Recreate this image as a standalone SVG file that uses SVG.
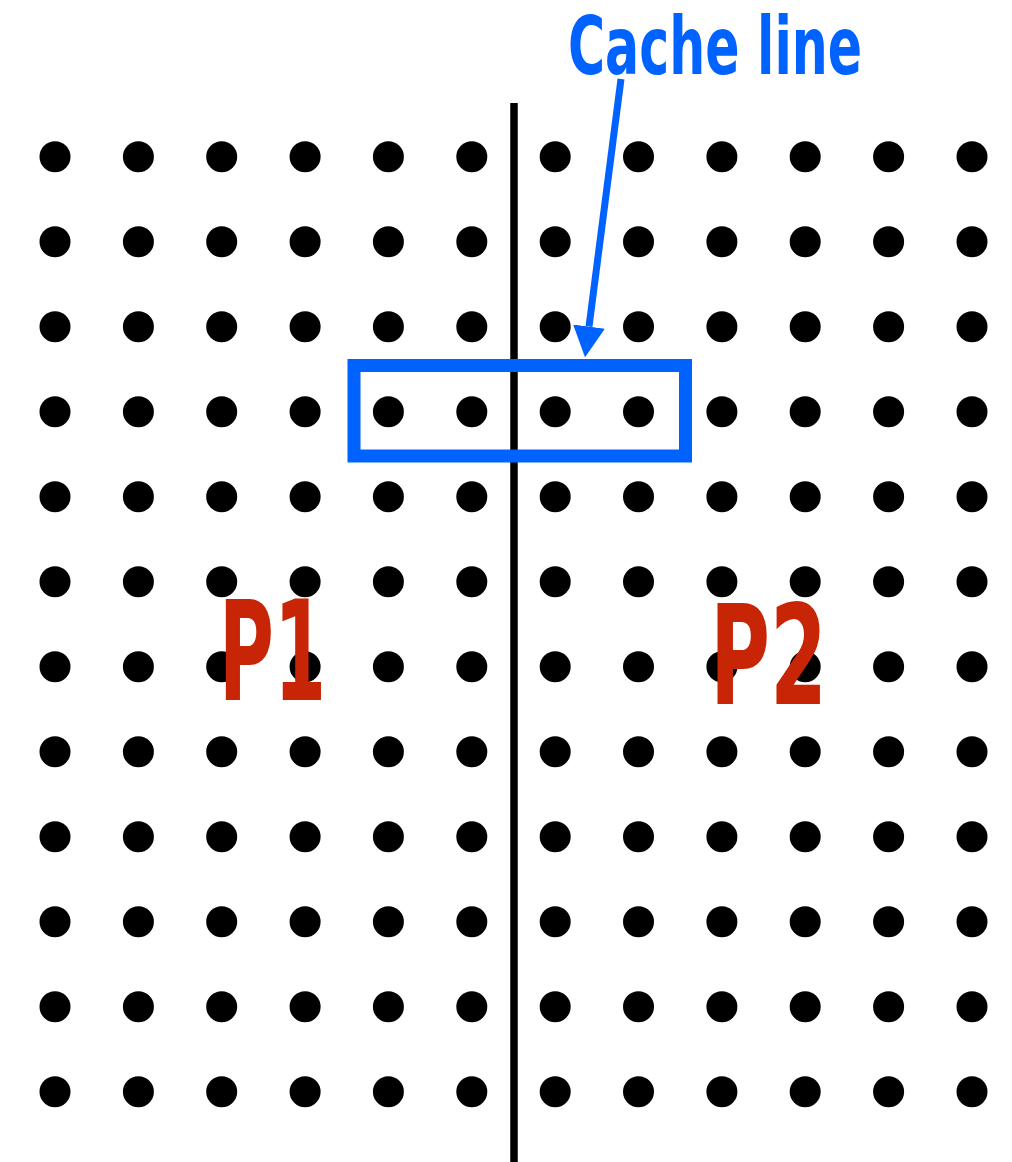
<svg xmlns="http://www.w3.org/2000/svg" xmlns:xlink="http://www.w3.org/1999/xlink" width="1012" height="1162" viewBox="0 0 1012 1162">
<style>
.dot{fill:#000}
.lbl{font-family:"DejaVu Sans Condensed","DejaVu Sans","Liberation Sans",sans-serif;font-weight:bold;font-stretch:condensed}
</style>
<defs>
<marker id="ah" markerUnits="userSpaceOnUse" markerWidth="32" markerHeight="32" refX="0" refY="16" orient="auto" viewBox="0 0 32 32">
<path d="M0,0 L31,16 L0,32 z" fill="#0062FF"/>
</marker>
<g id="row">
<circle class="dot" cx="55" cy="0" r="15.5"/>
<circle class="dot" cx="138.4" cy="0" r="15.5"/>
<circle class="dot" cx="221.7" cy="0" r="15.5"/>
<circle class="dot" cx="305.1" cy="0" r="15.5"/>
<circle class="dot" cx="388.4" cy="0" r="15.5"/>
<circle class="dot" cx="471.8" cy="0" r="15.5"/>
<circle class="dot" cx="555.2" cy="0" r="15.5"/>
<circle class="dot" cx="638.5" cy="0" r="15.5"/>
<circle class="dot" cx="721.9" cy="0" r="15.5"/>
<circle class="dot" cx="805.2" cy="0" r="15.5"/>
<circle class="dot" cx="888.6" cy="0" r="15.5"/>
<circle class="dot" cx="972" cy="0" r="15.5"/>
</g>
</defs>
<rect width="1012" height="1162" fill="#fff"/>
<g id="grid">
<use href="#row" xlink:href="#row" y="156.7"/>
<use href="#row" xlink:href="#row" y="241.7"/>
<use href="#row" xlink:href="#row" y="326.7"/>
<use href="#row" xlink:href="#row" y="411.7"/>
<use href="#row" xlink:href="#row" y="496.7"/>
<use href="#row" xlink:href="#row" y="581.7"/>
<use href="#row" xlink:href="#row" y="666.7"/>
<use href="#row" xlink:href="#row" y="751.7"/>
<use href="#row" xlink:href="#row" y="836.7"/>
<use href="#row" xlink:href="#row" y="921.7"/>
<use href="#row" xlink:href="#row" y="1006.7"/>
<use href="#row" xlink:href="#row" y="1091.7"/>
</g>
<g id="divider">
<line x1="514" y1="103" x2="514" y2="1162" stroke="#000" stroke-width="7.5"/>
</g>
<g id="cache-line-box">
<rect x="354" y="365.5" width="331.5" height="90.5" fill="none" stroke="#0062FF" stroke-width="13"/>
</g>
<g id="cache-line-label">
<text class="lbl" x="568" y="73.5" font-size="80" fill="#0062FF" textLength="294" lengthAdjust="spacingAndGlyphs">Cache line</text>
</g>
<g id="connectors">
<line x1="621" y1="79" x2="589" y2="326.6" stroke="#0062FF" stroke-width="7" marker-end="url(#ah)"/>
</g>
<g id="p1">
<text class="lbl" x="219" y="700" font-size="139" fill="#C82506" textLength="107" lengthAdjust="spacingAndGlyphs">P1</text>
</g>
<g id="p2">
<text class="lbl" x="710" y="703.5" font-size="139" fill="#C82506" textLength="117" lengthAdjust="spacingAndGlyphs">P2</text>
</g>
</svg>
